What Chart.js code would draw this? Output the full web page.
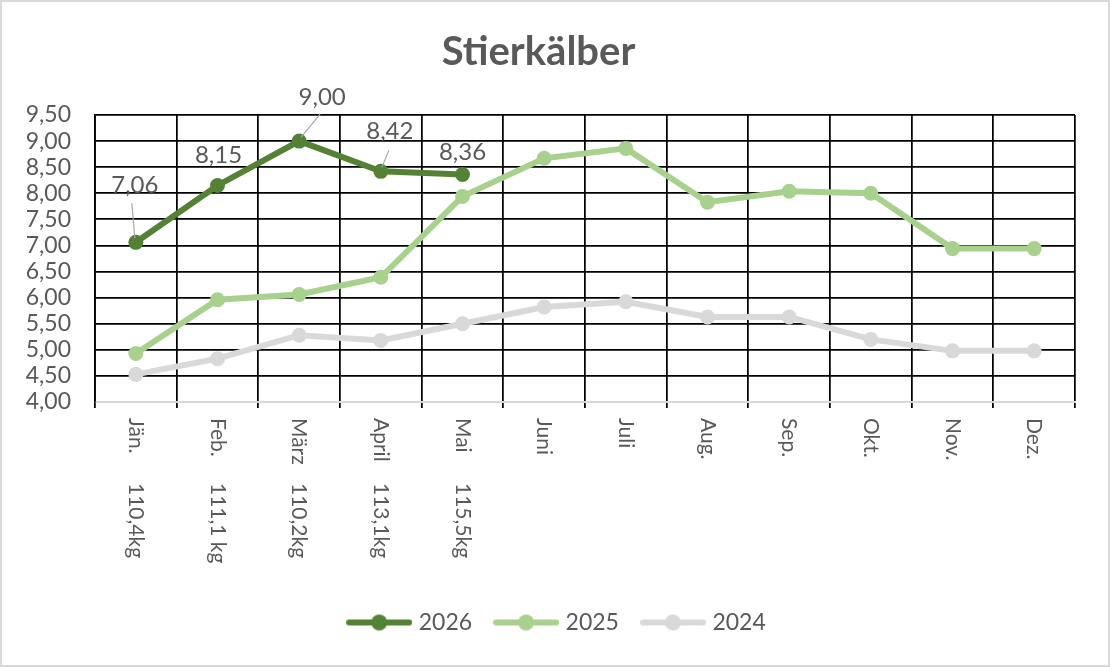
<!DOCTYPE html>
<html>
<head>
<meta charset="utf-8">
<script src="https://cdn.jsdelivr.net/npm/chart.js@4.4.1/dist/chart.umd.min.js"></script>
<style>
  html, body { margin: 0; padding: 0; background: #fff; }
  #wrap { width: 1110px; height: 667px; box-sizing: border-box; border: 2px solid #d9d9d9; }
</style>
</head>
<body>
<div id="wrap"><canvas id="chart"></canvas></div>
<script>
"use strict";

const months = ['Jän.', 'Feb.', 'März', 'April', 'Mai', 'Juni', 'Juli', 'Aug.', 'Sep.', 'Okt.', 'Nov.', 'Dez.'];
const weights = ['110,4kg', '111,1 kg', '110,2kg', '113,1kg', '115,5kg', '', '', '', '', '', '', ''];
const prices2026 = [7.06, 8.15, 9.00, 8.42, 8.36];
const prices2025 = [4.93, 5.96, 6.06, 6.39, 7.94, 8.67, 8.86, 7.83, 8.04, 8.00, 6.94, 6.94];
const prices2024 = [4.53, 4.83, 5.28, 5.18, 5.50, 5.82, 5.92, 5.63, 5.63, 5.20, 4.98, 4.98];
const yearNames = ['2026', '2025', '2024'];
const yearColors = ['#548235', '#a9d18e', '#d9d9d9'];

const textColor = '#595959';
const fontName = 'Lato, "Open Sans", sans-serif';

// label placement for the 2026 values: dx, dy, leader line
const labelOffsets = [
    [-1, -57, [-4, -39, -1, -4]],
    [1, -30, null],
    [23, -44, [2, -4, 21, -27]],
    [9, -40, [1, -4, 8, -21]],
    [0, -22, null]
];

function fmt(v) {
    return v.toFixed(2).replace('.', ',');
}

// small line + dot picture for the legend
function legendIcon(color) {
    let c = document.createElement('canvas');
    c.width = 66;
    c.height = 18;
    let ctx = c.getContext('2d');
    ctx.strokeStyle = color;
    ctx.lineWidth = 6;
    ctx.lineCap = 'round';
    ctx.beginPath();
    ctx.moveTo(3, 9);
    ctx.lineTo(63, 9);
    ctx.stroke();
    ctx.fillStyle = color;
    ctx.beginPath();
    ctx.arc(33, 9, 8, 0, Math.PI * 2);
    ctx.fill();
    return c;
}

const xLabels = {
    id: 'xLabels',
    beforeDraw(chart) {
        // legend is centred on the whole picture, not on the padded box
        chart.legend.left += 7;
        chart.legend.right += 33;
    },
    afterDraw(chart) {
        let ctx = chart.ctx;
        let xs = chart.scales.x;
        let top = chart.chartArea.bottom + 16;
        ctx.save();
        ctx.fillStyle = textColor;
        ctx.font = '21px ' + fontName;
        ctx.textAlign = 'left';
        ctx.textBaseline = 'middle';
        for (let i = 0; i < months.length; i++) {
            let x = xs.getPixelForValue(i);
            ctx.save();
            ctx.translate(x, top);
            ctx.rotate(Math.PI / 2);
            ctx.fillText(months[i], 0, 0);
            if (weights[i]) {
                ctx.fillText(weights[i], 65, 0);
            }
            ctx.restore();
        }
        ctx.restore();
    }
};

const valueLabels = {
    id: 'valueLabels',
    afterDatasetsDraw(chart) {
        let ctx = chart.ctx;
        let meta = chart.getDatasetMeta(0);
        ctx.save();
        ctx.font = '24px ' + fontName;
        ctx.textAlign = 'center';
        ctx.textBaseline = 'middle';
        meta.data.forEach(function (pt, i) {
            let off = labelOffsets[i];
            if (off[2]) {
                ctx.strokeStyle = '#a6a6a6';
                ctx.lineWidth = 1.2;
                ctx.beginPath();
                ctx.moveTo(pt.x + off[2][0], pt.y + off[2][1]);
                ctx.lineTo(pt.x + off[2][2], pt.y + off[2][3]);
                ctx.stroke();
            }
            ctx.fillStyle = textColor;
            ctx.fillText(fmt(prices2026[i]), pt.x + off[0], pt.y + off[1]);
        });
        ctx.restore();
    }
};

function makeSet(name, values, color) {
    return {
        label: name,
        data: values,
        borderColor: color,
        backgroundColor: color,
        borderWidth: 6,
        pointRadius: 7.5,
        pointHoverRadius: 7.5,
        pointBorderWidth: 0,
        pointStyle: 'circle',
        tension: 0
    };
}

function main() {
    new Chart(document.getElementById('chart'), {
        type: 'line',
        data: {
            labels: months,
            datasets: [
                makeSet(yearNames[0], prices2026, yearColors[0]),
                makeSet(yearNames[1], prices2025, yearColors[1]),
                makeSet(yearNames[2], prices2024, yearColors[2])
            ]
        },
        options: {
            responsive: true,
            maintainAspectRatio: false,
            animation: false,
            events: [],
            layout: { padding: { left: 0, right: 33, top: 0, bottom: 21 } },
            plugins: {
                title: {
                    display: true,
                    text: 'Stierkälber',
                    color: textColor,
                    font: { family: fontName, size: 40, weight: 'bold' },
                    padding: { top: 26, bottom: 39 }
                },
                legend: {
                    position: 'bottom',
                    labels: {
                        color: textColor,
                        font: { family: fontName, size: 23 },
                        usePointStyle: true,
                        pointStyleWidth: 56,
                        padding: 26,
                        generateLabels: function (chart) {
                            return chart.data.datasets.map(function (ds, i) {
                                return {
                                    text: ds.label,
                                    pointStyle: legendIcon(yearColors[i]),
                                    fillStyle: yearColors[i],
                                    strokeStyle: yearColors[i],
                                    lineWidth: 0,
                                    fontColor: textColor,
                                    datasetIndex: i
                                };
                            });
                        }
                    }
                },
                tooltip: { enabled: false }
            },
            scales: {
                x: {
                    offset: true,
                    grid: {
                        offset: true,
                        color: '#000',
                        lineWidth: 1.75,
                        drawTicks: true,
                        tickLength: 6
                    },
                    border: { color: '#d9d9d9', width: 2 },
                    ticks: { display: false },
                    afterFit: function (scale) {
                        scale.height = 183;
                    }
                },
                y: {
                    min: 4,
                    max: 9.5,
                    grid: {
                        color: function (c) {
                            return c.tick && c.tick.value === 4 ? 'rgba(0,0,0,0)' : '#000';
                        },
                        lineWidth: 1.75,
                        drawTicks: false
                    },
                    border: { color: '#000', width: 1.75 },
                    ticks: {
                        stepSize: 0.5,
                        autoSkip: false,
                        padding: 24,
                        color: textColor,
                        font: { family: fontName, size: 23, lineHeight: 1 },
                        callback: function (v) { return fmt(v); }
                    },
                    afterFit: function (scale) {
                        scale.width = 93;
                    }
                }
            }
        },
        plugins: [xLabels, valueLabels]
    });
}

document.addEventListener('DOMContentLoaded', main);
</script>
</body>
</html>
